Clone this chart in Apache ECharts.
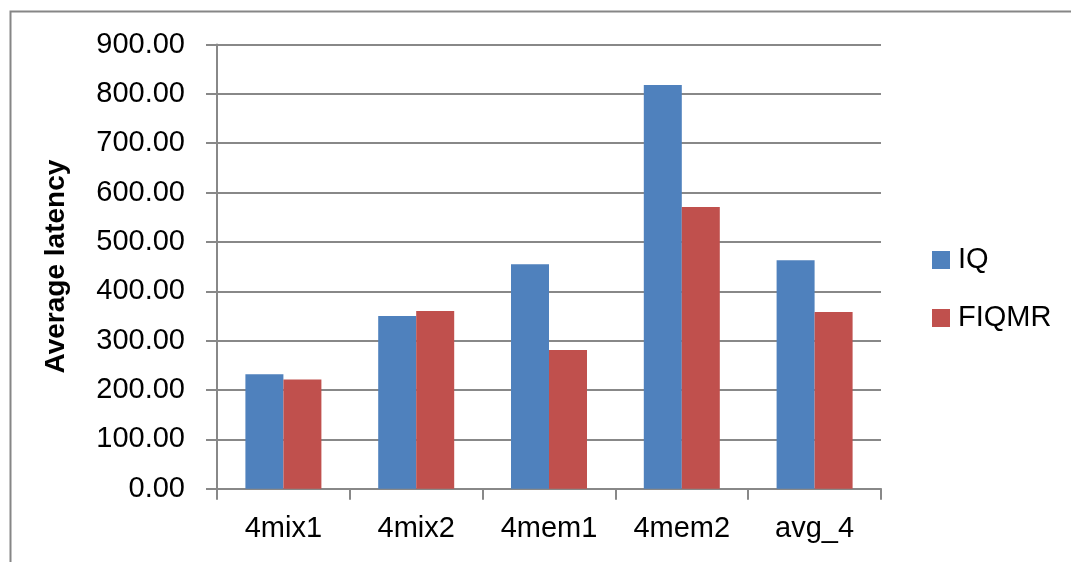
<!DOCTYPE html>
<html>
<head>
<meta charset="utf-8">
<script src="https://cdn.jsdelivr.net/npm/echarts@6/dist/echarts.min.js"></script>
<style>
  html, body { margin: 0; padding: 0; background: #fff; }
  #chart { width: 1071px; height: 562px; }
</style>
</head>
<body>
<div id="chart"></div>
<script>
// workloads on the x axis
const categories = ["4mix1", "4mix2", "4mem1", "4mem2", "avg_4"];
// average latency per scheme
const iqValues = [232, 350, 455, 818, 463];
const fiqmrValues = [221, 360, 281, 571, 358];

const font = "Liberation Sans";
const gridColor = "#888888";

const chart = echarts.init(document.getElementById("chart"));

chart.setOption({
  animation: false,
  backgroundColor: "#ffffff",
  textStyle: { fontFamily: font },
  graphic: [
    {
      type: "rect",
      left: 8,
      top: 9,
      shape: { width: 1200, height: 700 },
      style: { fill: "none", stroke: "#868686", lineWidth: 2 },
      silent: true,
    },
  ],
  grid: { left: 217, right: 190, top: 44.5, bottom: 73.3 },
  legend: {
    orient: "vertical",
    left: 932,
    top: 245,
    padding: 0,
    itemWidth: 18,
    itemHeight: 18,
    itemGap: 28,
    icon: "rect",
    data: ["IQ", "FIQMR"],
    textStyle: { fontFamily: font, fontSize: 29, color: "#000", lineHeight: 30, padding: [0, 0, 0, 3] },
  },
  xAxis: {
    type: "category",
    data: categories,
    axisLine: { lineStyle: { color: gridColor, width: 2 } },
    axisTick: { show: true, length: 11, interval: 0, lineStyle: { color: gridColor, width: 2 } },
    axisLabel: { fontFamily: font, fontSize: 29, color: "#000", margin: 26 },
  },
  yAxis: {
    type: "value",
    min: 0,
    max: 900,
    interval: 100,
    name: "Average latency",
    nameLocation: "middle",
    nameRotate: 90,
    nameGap: 147,
    nameTextStyle: { fontFamily: font, fontSize: 28, fontWeight: "bold", color: "#000" },
    axisLine: { show: true, lineStyle: { color: gridColor, width: 2 } },
    axisTick: { show: true, length: 11, lineStyle: { color: gridColor, width: 2 } },
    splitLine: { lineStyle: { color: gridColor, width: 2 } },
    axisLabel: {
      fontFamily: font,
      fontSize: 29,
      color: "#000",
      margin: 32,
      formatter: (v) => v.toFixed(2),
    },
  },
  series: [
    {
      name: "IQ",
      type: "bar",
      data: iqValues,
      barWidth: 38,
      barGap: "0%",
      itemStyle: { color: "#4F81BD" },
    },
    {
      name: "FIQMR",
      type: "bar",
      data: fiqmrValues,
      barWidth: 38,
      barGap: "0%",
      itemStyle: { color: "#C0504D" },
    },
  ],
});
</script>
</body>
</html>
